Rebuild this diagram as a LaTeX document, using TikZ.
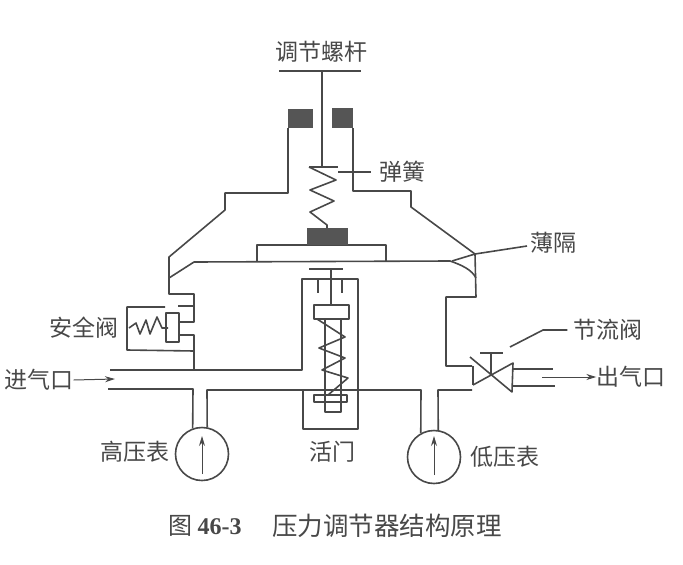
\documentclass[tikz,border=0pt]{standalone}
\usepackage{fontspec}
\setmainfont{Liberation Serif}
\newfontfamily\cjk{Noto Sans CJK SC}
\usetikzlibrary{arrows.meta}
\definecolor{ink}{HTML}{484848}
\definecolor{block}{HTML}{555555}
\tikzset{
  wall/.style={draw=ink,line width=1.6pt,line join=round},
  thinwall/.style={draw=ink,line width=1.6pt,line join=round},
  lbl/.style={text=ink,inner sep=0pt,font=\cjk\fontsize{23}{23}\selectfont},
  dial/.style={circle,draw=ink,line width=1.6pt,minimum size=53pt,inner sep=0pt},
  flow/.style={draw=ink,line width=1pt,-{Stealth[length=10pt,width=6pt]}}
}
\begin{document}
\begin{tikzpicture}[x=1pt,y=-1pt]
\useasboundingbox (0,0) rectangle (683,565);
\newcommand{\gaugearrow}[3]{
  \draw[flow] (#1,#3) -- (#1,#2);
}

% labels
\node[lbl] (screw) at (321,52) {调节螺杆};
\node[lbl] (spring) at (402,172) {弹簧};
\node[lbl] (film) at (553,243) {薄隔};
\node[lbl] (safety) at (84,328) {安全阀};
\node[lbl] (throttle) at (608,330) {节流阀};
\node[lbl] (inlet) at (39,380) {进气口};
\node[lbl] (outlet) at (631,377) {出气口};
\node[lbl] (highlbl) at (135,452) {高压表};
\node[lbl] (piston) at (332,452) {活门};
\node[lbl] (lowlbl) at (505,457) {低压表};
\node[text=ink,inner sep=0pt,anchor=west] (capnum) at (168,526)
  {\fontsize{24}{24}\selectfont\cjk 图\ \rmfamily\bfseries 46-3};
\node[text=ink,inner sep=0pt] (caption) at (387,526)
  {\fontsize{25.5}{25.5}\selectfont\cjk 压力调节器结构原理};

% gauges
\node[dial] (high) at (202,454) {};
\node[dial] (low) at (434,457) {};
\gaugearrow{202}{436}{474}
\gaugearrow{434}{436}{475}

% adjusting screw
\draw[wall] (279,71) -- (361,71);
\draw[thinwall] (322,71) -- (322,167);
\fill[block] (288,109) rectangle (313,128);
\fill[block] (332,108) rectangle (353,128);

% upper casing
\draw[wall] (288,128) -- (288,193) -- (225,193) -- (225,210) -- (169,257) -- (169,294)
  -- (194,294) -- (194,322) -- (179,322);
\draw[wall] (179,335) -- (194,335) -- (194,370);
\draw[wall] (353,128) -- (353,191) -- (411,191) -- (411,207) -- (475,254) -- (476,297)
  -- (446,297) -- (446,366) -- (472,366);

% diaphragm with plate
\draw[wall] (169,278) -- (194,262) -- (450,261) .. controls (462,265) and (472,270) .. (476,278);
\draw[wall] (257,261) -- (257,245) -- (386,245) -- (386,261);
\fill[block] (307,228) rectangle (348,245);

% main spring
\draw[thinwall] (309,167) -- (338,167);
\draw[thinwall] (309,167) -- (336,180) -- (310,190) -- (334,201) -- (310,212) -- (327,225) -- (327,228);
\coordinate (springend) at (338,172);
\draw[thinwall,shorten >=8pt] (springend) -- (spring.west);

% film leader
\coordinate (filmend) at (452,261);
\draw[thinwall] (filmend) -- (475,254) -- (527,246);

% safety valve
\draw[thinwall] (165,307) -- (127,307) -- (127,350) -- (194,351);
\draw[thinwall] (178,306) -- (194,306);
\draw[thinwall] (166,313) rectangle (179,342);
\draw[thinwall] (129,328) -- (136,323) -- (140,334) -- (146,320) -- (150,334) -- (157,317) -- (162,328) -- (168,328);

% inlet pipe and piston chamber
\draw[wall] (110,370) -- (302,370) -- (302,279) -- (358,279) -- (358,429) -- (303,429) -- (303,390);
\draw[wall] (108,389) -- (193,389) -- (high.110);
\draw[wall] (high.79) -- (207,390) -- (421,390) -- (low.119);
\draw[wall] (low.81) -- (438,390) -- (472,390);
\coordinate (inletend) at (115,379);
\draw[flow] (inlet.east) -- (inletend);

% piston
\draw[thinwall] (309,269) -- (343,269);
\draw[thinwall] (331,269) -- (331,305);
\foreach \x in {318,342} {
  \draw[thinwall] (\x,279) -- (\x,293);
}
\draw[thinwall] (314,305) rectangle (349,319);
\draw[thinwall] (325,319) -- (325,412) -- (341,412) -- (341,319);
\draw[thinwall] (314,395) rectangle (347,402);
\draw[thinwall] (317,319) -- (345,337) -- (319,348) -- (345,358) -- (322,370) -- (348,378) -- (328,395);

% throttle valve
\draw[wall] (473,366) -- (473,385);
\draw[wall] (470,357) -- (512,392) -- (513,363) -- (473,385);
\draw[thinwall] (491,374) -- (491,353);
\draw[thinwall] (480,353) -- (503,353);
\coordinate (throttleend) at (510,347);
\draw[thinwall,shorten >=6pt] (throttleend) -- (543,330) -- (throttle.west);

% outlet pipe
\draw[wall] (513,369) -- (553,369);
\draw[wall] (513,386) -- (555,386);
\coordinate (outletstart) at (542,377);
\draw[flow] (outletstart) -- (outlet.west);
\end{tikzpicture}
\end{document}
